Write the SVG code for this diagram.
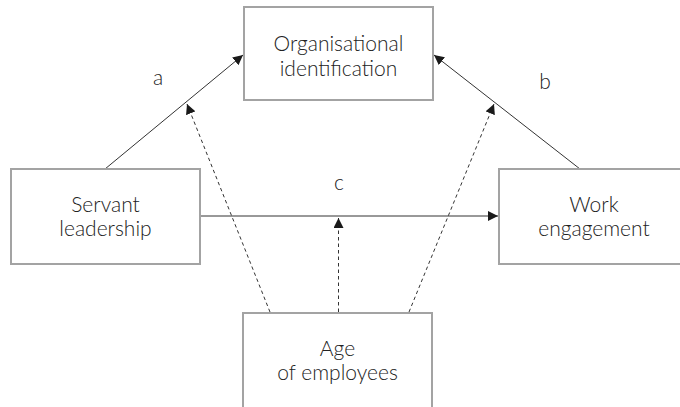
<svg xmlns="http://www.w3.org/2000/svg" width="680" height="407" viewBox="0 0 680 407">
<style>
.box{fill:#fff;stroke:#a3a3a3;stroke-width:2}
.t{font-family:Lato,"Open Sans","Liberation Sans",sans-serif;font-weight:300;font-size:21px;fill:#222;text-anchor:middle}
.ln{stroke:#333;stroke-width:1;fill:none}
.d{stroke:#333;stroke-width:1;fill:none;stroke-dasharray:3.5,3}
</style>
<defs>
<marker id="ah" viewBox="0 0 10 10" refX="10" refY="5" markerWidth="10" markerHeight="10" markerUnits="userSpaceOnUse" orient="auto">
<path d="M0,0 L10,5 L0,10 z" fill="#1a1a1a"/>
</marker>
</defs>
<g id="connectors">
<line class="ln" x1="105" y1="169" x2="243" y2="55" marker-end="url(#ah)"/>
<line class="ln" x1="580" y1="169" x2="434" y2="55" marker-end="url(#ah)"/>
<line class="ln" x1="201" y1="216" x2="498" y2="216" marker-end="url(#ah)"/>
<line class="d" x1="270" y1="312" x2="187" y2="104" marker-end="url(#ah)"/>
<line class="d" x1="338.5" y1="312" x2="338.5" y2="218" marker-end="url(#ah)"/>
<line class="d" x1="409" y1="312" x2="494" y2="104" marker-end="url(#ah)"/>
<text class="t" x="158" y="85">a</text>
<text class="t" x="545" y="89">b</text>
<text class="t" x="339" y="190">c</text>
</g>
<g id="org">
<rect class="box" x="244" y="7" width="189" height="93"/>
<text class="t" x="338.5" y="51">Organisational</text>
<text class="t" x="338.5" y="76">identification</text>
</g>
<g id="servant">
<rect class="box" x="11" y="169" width="189" height="95"/>
<text class="t" x="105.5" y="212">Servant</text>
<text class="t" x="105.5" y="236">leadership</text>
</g>
<g id="work">
<rect class="box" x="499" y="169" width="200" height="95"/>
<text class="t" x="594" y="212">Work</text>
<text class="t" x="594" y="236">engagement</text>
</g>
<g id="age">
<rect class="box" x="243" y="313" width="189" height="110"/>
<text class="t" x="337.5" y="356">Age</text>
<text class="t" x="337.5" y="380">of employees</text>
</g>
</svg>
